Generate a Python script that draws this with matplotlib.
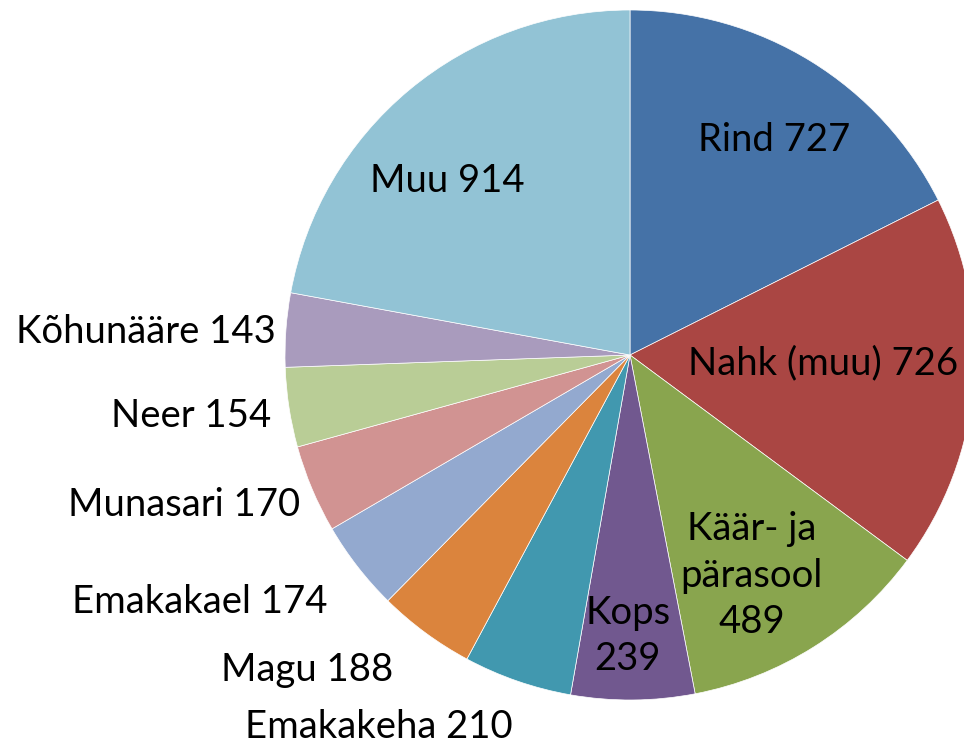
import numpy as np
import matplotlib
matplotlib.use("Agg")
import matplotlib.pyplot as plt

plt.rcParams['font.family'] = ['Lato', 'DejaVu Sans']

# Paikmed ja juhtude arv (päripäeva alates ülevalt)
sites = ['Rind', 'Nahk (muu)', 'Käär- ja\npärasool', 'Kops', 'Emakakeha', 'Magu',
         'Emakakael', 'Munasari', 'Neer', 'Kõhunääre', 'Muu']
counts = [727, 726, 489, 239, 210, 188, 174, 170, 154, 143, 914]
colors = ['#4572A7', '#AA4643', '#89A54E', '#71588F', '#4198AF', '#DB843D',
          '#93A9CF', '#D19392', '#B9CD96', '#A99BBD', '#92C3D5']
inside = [True, True, True, True, False, False, False, False, False, False, True]

# layout (pixels)
W, H = 964, 744
cx, cy, R = 630, H - 355, 345
# inside labels: distance (fraction of R) and angle nudge (deg)
in_dist = [0.75, 0.56, 0.73, 0.815, 0, 0, 0, 0, 0, 0, 0.73]
in_turn = [-2.3, 2.5, -3.3, -0.9, 0, 0, 0, 0, 0, 0, 6.6]
# outside labels: nudge (px) from the rim point, right edge / middle of text
out_dx = [0, 0, 0, 0, -5, -32, -30, -12, -18, -10, 0]
out_dy = [0, 0, 0, 0, -46, -37, -35, -16, -9, -2, 0]

fig = plt.figure(figsize=(W / 100, H / 100), dpi=100)
ax = fig.add_axes([0, 0, 1, 1])
wedges, _ = ax.pie(counts, colors=colors, startangle=90, counterclock=False,
                   center=(cx, cy), radius=R,
                   wedgeprops=dict(edgecolor='white', linewidth=0.5))
ax.set_xlim(0, W)
ax.set_ylim(0, H)
ax.set_aspect('equal')
ax.axis('off')

fs = 27.5
for i, w in enumerate(wedges):
    mid = (w.theta1 + w.theta2) / 2
    if '\n' in sites[i] or sites[i] == 'Kops':
        txt = f'{sites[i]}\n{counts[i]}'
    else:
        txt = f'{sites[i]} {counts[i]}'
    if inside[i]:
        a = np.deg2rad(mid + in_turn[i])
        d = in_dist[i] * R
        ax.text(cx + d * np.cos(a), cy + d * np.sin(a), txt, ha='center',
                va='center', fontsize=fs, linespacing=1.36)
    else:
        a = np.deg2rad(mid)
        ax.text(cx + R * np.cos(a) + out_dx[i], cy + R * np.sin(a) + out_dy[i],
                txt, ha='right', va='center', fontsize=fs)

fig.savefig('out.png', dpi=100)
